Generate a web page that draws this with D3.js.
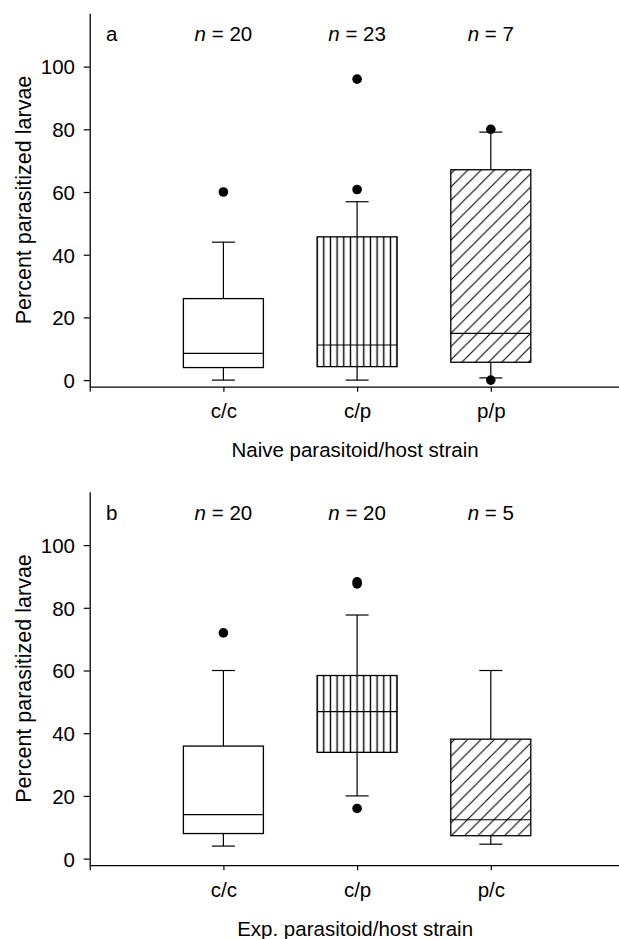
<!DOCTYPE html>
<html>
<head>
<meta charset="utf-8">
<script src="https://cdn.jsdelivr.net/npm/d3@7/dist/d3.min.js"></script>
<style>
  html, body { margin: 0; padding: 0; background: #fff; }
  svg { display: block; font-family: "Liberation Sans", Arial, Helvetica, sans-serif; }
</style>
</head>
<body>
<script>
// ---------- data ----------
const yTicks = [0, 20, 40, 60, 80, 100];

const categoriesA = ["c/c", "c/p", "p/p"];
const nA = [20, 23, 7];
const lowA = [0, 0, 0.7];
const q1A = [4, 4.3, 5.7];
const medianA = [8.5, 11.2, 14.9];
const q3A = [26, 45.7, 67.1];
const highA = [44, 56.9, 79.1];
const outliersA = [[60], [60.8, 96], [0, 80]];

const categoriesB = ["c/c", "c/p", "p/c"];
const nB = [20, 20, 5];
const lowB = [4, 20, 4.6];
const q1B = [8, 33.9, 7.3];
const medianB = [14, 46.9, 12.4];
const q3B = [35.9, 58.4, 38.1];
const highB = [60, 77.7, 60];
const outliersB = [[72], [16, 87.6, 88.3], []];

const fills = ["none", "vertical", "diagonal"];

// ---------- drawing ----------
const W = 619, H = 939;
const svg = d3.select("body").append("svg").attr("width", W).attr("height", H);
const defs = svg.append("defs");
const FS = 20.5;

const x = d3.scaleLinear().domain([0, 4]).range([89.7, 624.5]);
const boxHalf = 40, capHalf = 11.5;

function panel(off, letter, cats, ns, low, q1, med, q3, high, outs, title) {
  const g = svg.append("g");
  const y = d3.scaleLinear().domain([-2.1, 117]).range([386.7 + off, 13.3 + off]);

  // y axis
  const ya = g.append("g").attr("transform", `translate(${x(0)},0)`)
    .call(d3.axisLeft(y).tickValues(yTicks).tickSize(6).tickSizeOuter(0).tickPadding(8.7));
  ya.select(".domain").attr("stroke", "#000").attr("stroke-width", 1.3);
  ya.selectAll(".tick line").attr("stroke", "#000").attr("stroke-width", 1.2);
  ya.selectAll(".tick text").attr("font-size", FS).attr("fill", "#000")
    .attr("font-family", "Liberation Sans, Arial, sans-serif").attr("dy", "0.36em");

  // x axis
  const xa = g.append("g").attr("transform", `translate(0,${y(-2.1)})`)
    .call(d3.axisBottom(x).tickValues([0, 1, 2, 3, 4]).tickSize(5).tickSizeOuter(0)
      .tickFormat(d => (d >= 1 && d <= 3) ? cats[d - 1] : ""));
  xa.select(".domain").attr("stroke", "#000").attr("stroke-width", 1.3);
  xa.selectAll(".tick line").attr("stroke", "#000").attr("stroke-width", 1.2);
  xa.selectAll(".tick text").attr("font-size", FS).attr("fill", "#000")
    .attr("font-family", "Liberation Sans, Arial, sans-serif")
    .attr("y", 31.6).attr("dy", 0);

  // axis titles
  g.append("text").attr("x", x(2) - 2).attr("y", 457 + off)
    .attr("text-anchor", "middle").attr("font-size", FS).text(title);
  g.append("text").attr("transform", `translate(30.5,${(y(-2.1) + y(117)) / 2}) rotate(-90)`)
    .attr("text-anchor", "middle").attr("font-size", 21.5).text("Percent parasitized larvae");

  // panel letter and n labels
  g.append("text").attr("x", 106).attr("y", 41 + off).attr("font-size", FS).text(letter);
  ns.forEach((n, i) => {
    const t = g.append("text").attr("x", x(i + 1)).attr("y", 41 + off)
      .attr("text-anchor", "middle").attr("font-size", FS);
    t.append("tspan").attr("font-style", "italic").text("n");
    t.append("tspan").text(" = " + n);
  });

  // boxes
  cats.forEach((c, i) => {
    const cx = x(i + 1);
    const bx = cx - boxHalf, bw = boxHalf * 2;
    const top = y(q3[i]), bot = y(q1[i]);
    // whiskers
    g.append("line").attr("x1", cx).attr("x2", cx).attr("y1", top).attr("y2", y(high[i]))
      .attr("stroke", "#000").attr("stroke-width", 1.2);
    g.append("line").attr("x1", cx).attr("x2", cx).attr("y1", bot).attr("y2", y(low[i]))
      .attr("stroke", "#000").attr("stroke-width", 1.2);
    [high[i], low[i]].forEach(v => {
      g.append("line").attr("x1", cx - capHalf).attr("x2", cx + capHalf)
        .attr("y1", y(v)).attr("y2", y(v)).attr("stroke", "#000").attr("stroke-width", 1.2);
    });
    // fill
    let fill = "#fff";
    const pid = `pat-${letter}-${i}`;
    if (fills[i] === "vertical") {
      const pw = bw / 12;
      const p = defs.append("pattern").attr("id", pid).attr("patternUnits", "userSpaceOnUse")
        .attr("x", bx - pw / 2).attr("y", 0).attr("width", pw).attr("height", 10);
      p.append("rect").attr("width", pw).attr("height", 10).attr("fill", "#fff");
      p.append("line").attr("x1", pw / 2).attr("x2", pw / 2).attr("y1", 0).attr("y2", 10)
        .attr("stroke", "#000").attr("stroke-width", 1.4);
      fill = `url(#${pid})`;
    } else if (fills[i] === "diagonal") {
      const s = 13.3;
      const p = defs.append("pattern").attr("id", pid).attr("patternUnits", "userSpaceOnUse")
        .attr("x", bx + 4).attr("y", top).attr("width", s).attr("height", s);
      p.append("rect").attr("width", s).attr("height", s).attr("fill", "#fff");
      p.append("path").attr("d", `M0,${s} L${s},0 M${-s / 2},${s / 2} L${s / 2},${-s / 2} M${s / 2},${s * 1.5} L${s * 1.5},${s / 2}`)
        .attr("stroke", "#000").attr("stroke-width", 1.1);
      fill = `url(#${pid})`;
    }
    g.append("rect").attr("x", bx).attr("y", top).attr("width", bw).attr("height", bot - top)
      .attr("fill", fill).attr("stroke", "#000").attr("stroke-width", 1.3);
    g.append("line").attr("x1", bx).attr("x2", bx + bw).attr("y1", y(med[i])).attr("y2", y(med[i]))
      .attr("stroke", "#000").attr("stroke-width", 1.2);
    // outliers
    outs[i].forEach(v => {
      g.append("circle").attr("cx", cx).attr("cy", y(v)).attr("r", 4.8).attr("fill", "#000");
    });
  });
}

panel(0, "a", categoriesA, nA, lowA, q1A, medianA, q3A, highA, outliersA, "Naive parasitoid/host strain");
panel(478.5, "b", categoriesB, nB, lowB, q1B, medianB, q3B, highB, outliersB, "Exp. parasitoid/host strain");
</script>
</body>
</html>
